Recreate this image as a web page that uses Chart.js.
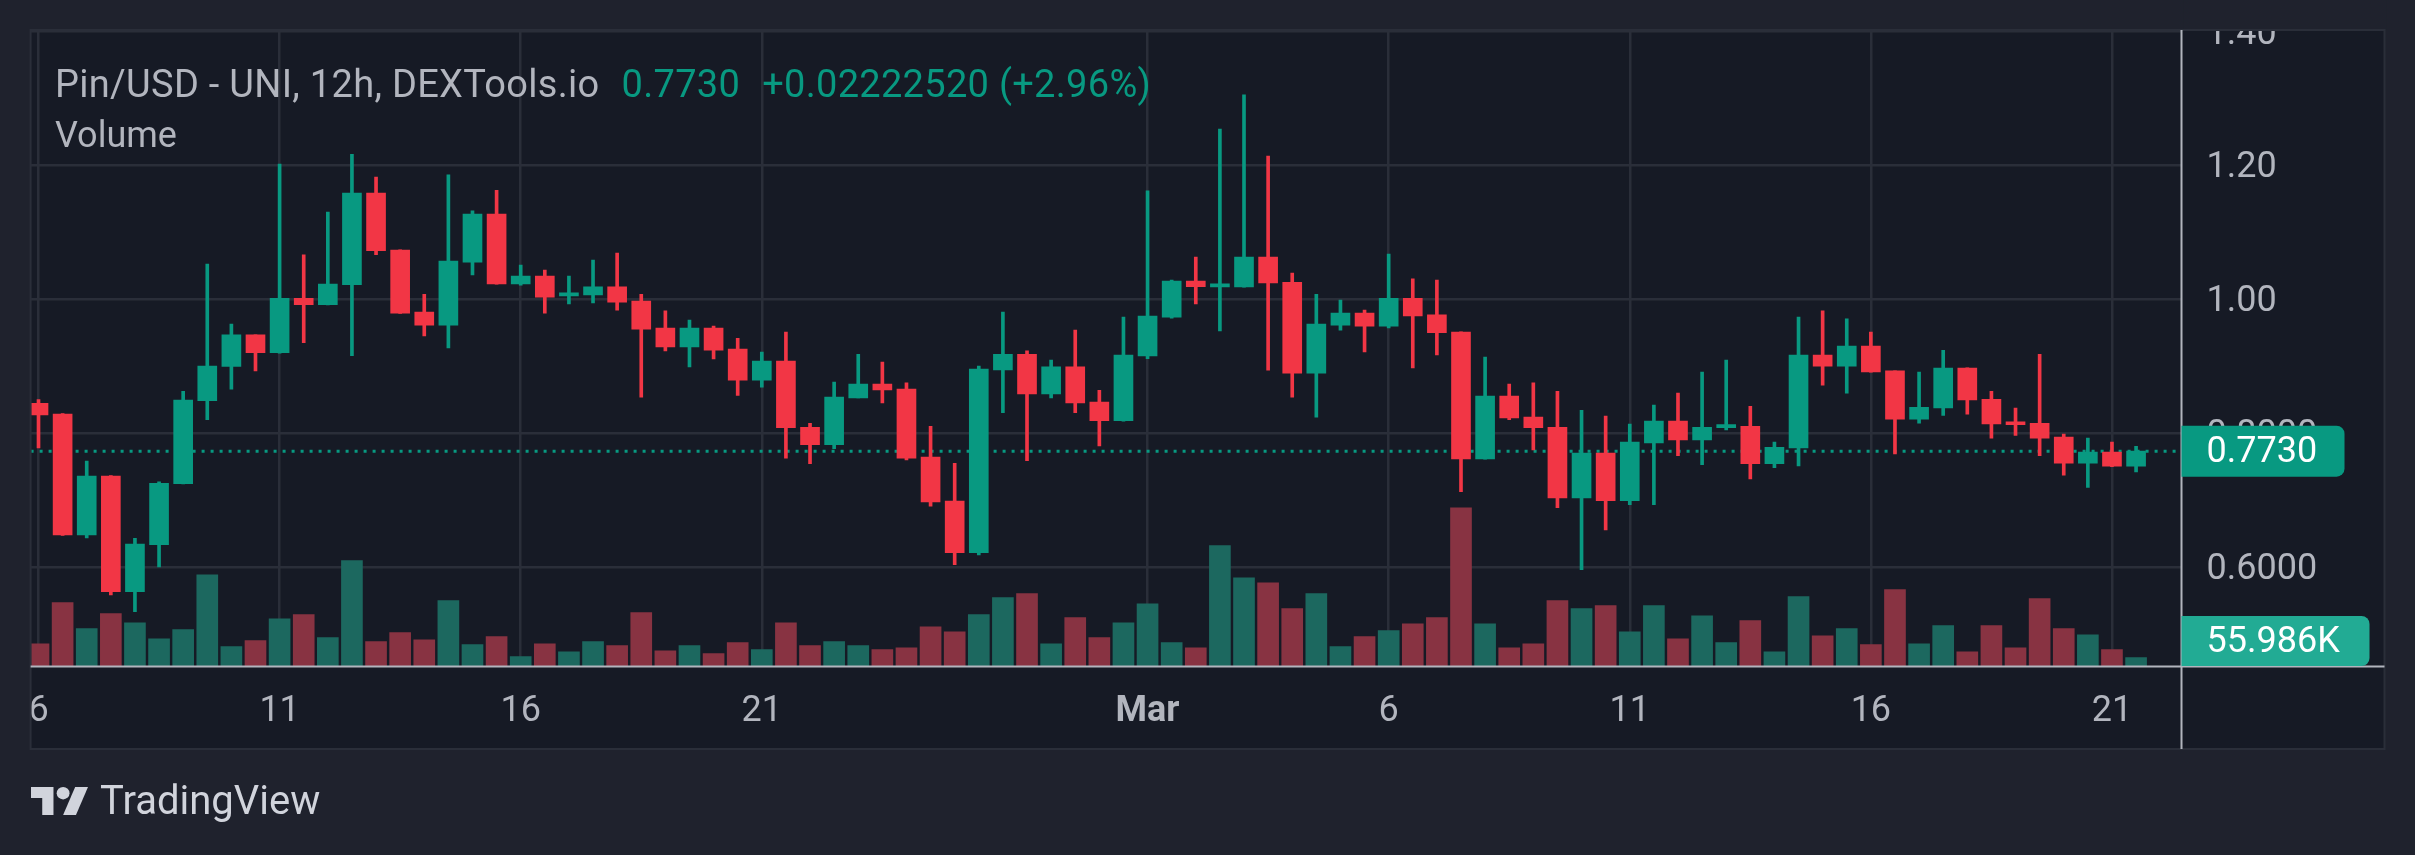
<!DOCTYPE html>
<html>
<head>
<meta charset="utf-8">
<style>
  body { margin: 0; background: #1f222d; overflow: hidden; }
  #wrap { position: relative; width: 2415px; height: 855px; }
  #myChart { position: absolute; left: 0; top: 0; display: block; }
  .txt { position: absolute; font-family: Roboto, sans-serif; white-space: nowrap; }
  #legend { left: 55px; top: 65px; font-size: 38px; line-height: 38px; letter-spacing: 0.3px; color: #b2b5be; }
  #legend .g { color: #089981; margin-left: 22px; }
  #volLabel { left: 55px; top: 117px; font-size: 36px; line-height: 36px; color: #b2b5be; }
  #brand { left: 100px; top: 781px; font-size: 40px; line-height: 40px; color: #d1d4dc; }
  #logo { position: absolute; left: 31px; top: 787px; }
</style>
</head>
<body>
<div id="wrap">
  <canvas id="myChart" width="2415" height="855"></canvas>
  <div id="legend" class="txt">Pin/USD - UNI, 12h, DEXTools.io<span class="g">0.7730</span><span class="g">+0.02222520 (+2.96%)</span></div>
  <div id="volLabel" class="txt">Volume</div>
  <svg id="logo" width="57" height="28" viewBox="0 4 35.5 18" preserveAspectRatio="none">
    <path d="M14 22H7V11H0V4h14v18z" fill="#d1d4dc"/>
    <circle cx="20" cy="8" r="4" fill="#d1d4dc"/>
    <path d="M28 22h-8l7.5-18h8L28 22z" fill="#d1d4dc"/>
  </svg>
  <div id="brand" class="txt">TradingView</div>
</div>

<script src="https://cdn.jsdelivr.net/npm/chart.js"></script>
<script>
    // 12h candles, Feb 6 00:00 .. Mar 21 12:00 (index = candle number)
    const opens = [0.8446, 0.8283, 0.6478, 0.7359, 0.5630, 0.6332, 0.7245, 0.8484, 0.8995, 0.9467,
        0.9201, 1.0016, 0.9918, 1.0217, 1.1587, 1.0734, 0.9810, 0.9614, 1.0554, 1.1272,
        1.0228, 1.0348, 1.0050, 1.0065, 1.0185, 0.9973, 0.9571, 0.9288, 0.9571, 0.9255,
        0.8793, 0.9076, 0.8087, 0.7826, 0.8527, 0.8734, 0.8658, 0.7641, 0.6984, 0.6212,
        0.8946, 0.9179, 0.8587, 0.8989, 0.8462, 0.8185, 0.9152, 0.9734, 1.0272, 1.0185,
        1.0185, 1.0630, 1.0255, 0.8897, 0.9614, 0.9793, 0.9598, 1.0016, 0.9766, 0.9511,
        0.7614, 0.8554, 0.8239, 0.8087, 0.7033, 0.7701, 0.6989, 0.7853, 0.8179, 0.7897,
        0.8082, 0.8103, 0.7543, 0.7777, 0.9168, 0.9000, 0.9299, 0.8929, 0.8207, 0.8375,
        0.8973, 0.8505, 0.8163, 0.8147, 0.7940, 0.7549, 0.7717, 0.7505];
    const highs = [0.8500, 0.8290, 0.7582, 0.7365, 0.6429, 0.7272, 0.8625, 1.0527, 0.9630, 0.9470,
        1.2022, 1.0663, 1.1304, 1.2168, 1.1826, 1.0740, 1.0076, 1.1859, 1.1321, 1.1630,
        1.0511, 1.0435, 1.0348, 1.0587, 1.0690, 1.0076, 0.9826, 0.9690, 0.9598, 0.9418,
        0.9212, 0.9511, 0.8147, 0.8761, 0.9179, 0.9060, 0.8750, 0.8103, 0.7549, 0.9000,
        0.9810, 0.9228, 0.9092, 0.9538, 0.8641, 0.9734, 1.1620, 1.0288, 1.0630, 1.2543,
        1.3055, 1.2141, 1.0391, 1.0076, 0.9989, 0.9837, 1.0674, 1.0304, 1.0288, 0.9515,
        0.9136, 0.8734, 0.8750, 0.8625, 0.8342, 0.8255, 0.8136, 0.8418, 0.8598, 0.8913,
        0.9092, 0.8402, 0.7864, 0.9734, 0.9826, 0.9707, 0.9511, 0.8930, 0.8913, 0.9239,
        0.8975, 0.8625, 0.8375, 0.9179, 0.7984, 0.7924, 0.7864, 0.7804];
    const lows = [0.7777, 0.6470, 0.6435, 0.5582, 0.5332, 0.6000, 0.7240, 0.8201, 0.8658, 0.8929,
        0.9195, 0.9353, 0.9915, 0.9158, 1.0668, 0.9790, 0.9451, 0.9272, 1.0364, 1.0225,
        1.0212, 0.9793, 0.9929, 0.9946, 0.9837, 0.8538, 0.9228, 0.8989, 0.9109, 0.8565,
        0.8685, 0.7625, 0.7543, 0.7766, 0.8525, 0.8451, 0.7598, 0.6908, 0.6033, 0.6179,
        0.8304, 0.7587, 0.8527, 0.8304, 0.7810, 0.8180, 0.9114, 0.9717, 0.9929, 0.9527,
        1.0180, 0.8940, 0.8538, 0.8239, 0.9538, 0.9212, 0.9571, 0.8973, 0.9168, 0.7125,
        0.7610, 0.8201, 0.7750, 0.6886, 0.5957, 0.6554, 0.6929, 0.6929, 0.7663, 0.7527,
        0.8049, 0.7315, 0.7484, 0.7511, 0.8717, 0.8598, 0.8910, 0.7690, 0.8147, 0.8266,
        0.8283, 0.7924, 0.7967, 0.7663, 0.7370, 0.7190, 0.7500, 0.7418];
    const closes = [0.8272, 0.6478, 0.7359, 0.5630, 0.6342, 0.7250, 0.8495, 0.9000, 0.9467, 0.9201,
        1.0016, 0.9918, 1.0228, 1.1587, 1.0728, 0.9793, 0.9614, 1.0571, 1.1272, 1.0228,
        1.0348, 1.0033, 1.0090, 1.0185, 0.9957, 0.9554, 0.9288, 0.9571, 0.9239, 0.8793,
        0.9076, 0.8082, 0.7826, 0.8538, 0.8734, 0.8647, 0.7625, 0.6973, 0.6212, 0.8957,
        0.9179, 0.8587, 0.8989, 0.8451, 0.8185, 0.9168, 0.9750, 1.0272, 1.0190, 1.0195,
        1.0630, 1.0245, 0.8897, 0.9630, 0.9793, 0.9598, 1.0016, 0.9750, 0.9500, 0.7614,
        0.8554, 0.8228, 0.8082, 0.7033, 0.7701, 0.6989, 0.7864, 0.8179, 0.7897, 0.8087,
        0.8120, 0.7543, 0.7788, 0.9168, 0.9000, 0.9299, 0.8913, 0.8207, 0.8386, 0.8973,
        0.8495, 0.8136, 0.8125, 0.7924, 0.7549, 0.7717, 0.7505, 0.7730];
    // volume in thousands
    const volumes = [148, 423, 250, 350, 289, 182, 243, 610, 129, 170,
        316, 343, 190, 705, 163, 224, 175, 437, 143, 197,
        63, 148, 95, 163, 136, 357, 102, 136, 83, 156,
        109, 289, 136, 163, 136, 109, 122, 262, 228, 343,
        457, 484, 148, 323, 190, 289, 416, 156, 122, 804,
        590, 556, 384, 484, 129, 197, 236, 282, 323, 1057,
        282, 122, 148, 437, 384, 403, 228, 403, 182, 335,
        156, 304, 95, 464, 202, 250, 143, 510, 148, 270,
        95, 270, 122, 450, 250, 209, 109, 55.986];

    const dayTickPos = [0, 10, 20, 30, 46, 56, 66, 76, 86];
    const dayTickLabels = ['6', '11', '16', '21', 'Mar', '6', '11', '16', '21'];
    const priceTicks = [0.6, 0.8, 1.0, 1.2, 1.4];
    const priceTickLabels = ['0.6000', '0.8000', '1.00', '1.20', '1.40'];

    const UP = '#089981', DOWN = '#f23645';
    const VOL_UP = '#1c685f', VOL_DOWN = '#883342';
    const OUTER = '#1f222d', PANEL = '#161a25', GRID = '#2a2e39', AXIS = '#b2b5be';
    const FONT = 'Roboto, sans-serif';

    const idx = closes.map((c, i) => i);
    const isUp = idx.map(i => closes[i] >= opens[i]);

    const panel = { left: 30.6, top: 30, right: 2384.5, bottom: 749 };

    const chrome = {
        id: 'chrome',
        beforeDraw(chart) {
            const c = chart.ctx;
            c.save();
            c.fillStyle = OUTER;
            c.fillRect(0, 0, chart.width, chart.height);
            c.fillStyle = PANEL;
            c.fillRect(panel.left, panel.top, panel.right - panel.left, panel.bottom - panel.top);
            c.restore();
        },
        beforeDatasetsDraw(chart) {
            const c = chart.ctx, a = chart.chartArea;
            const y = chart.scales.y.getPixelForValue(closes[closes.length - 1]);
            c.save();
            c.strokeStyle = UP;
            c.lineWidth = 3;
            c.setLineDash([3, 6]);
            c.beginPath();
            c.moveTo(a.left, y);
            c.lineTo(a.right, y);
            c.stroke();
            c.restore();
        },
        afterDraw(chart) {
            const c = chart.ctx, a = chart.chartArea;
            c.save();
            // clip the top price label at the pane edge
            c.fillStyle = OUTER;
            c.fillRect(a.right + 2, 0, panel.right - a.right, panel.top);
            c.strokeStyle = GRID;
            c.lineWidth = 2;
            c.strokeRect(panel.left, panel.top, panel.right - panel.left, panel.bottom - panel.top);
            // axis lines
            c.strokeStyle = AXIS;
            c.lineWidth = 2;
            c.beginPath();
            c.moveTo(a.right, panel.top);
            c.lineTo(a.right, panel.bottom);
            c.moveTo(panel.left, a.bottom + 0.5);
            c.lineTo(panel.right, a.bottom + 0.5);
            c.stroke();

            // last value badges
            const last = closes.length - 1;
            const py = chart.scales.y.getPixelForValue(closes[last]);
            drawBadge(c, a.right, py, closes[last].toFixed(4), UP, 163, 51, a);
            const vy = chart.scales.vol.getPixelForValue(volumes[last]);
            drawBadge(c, a.right, vy, volumes[last].toFixed(3) + 'K', '#22ab94', 188, 50, a);
            c.restore();
        }
    };

    function drawBadge(c, x0, y, text, color, w, h, area) {
        if (y + h / 2 > area.bottom) y = area.bottom - h / 2;
        c.fillStyle = color;
        c.beginPath();
        c.roundRect(x0, y - h / 2, w, h, [0, 8, 8, 0]);
        c.fill();
        c.font = '36px ' + FONT;
        c.fillStyle = '#ffffff';
        c.textBaseline = 'middle';
        c.textAlign = 'left';
        c.fillText(text, x0 + 25, y + 2);
    }

    // keep label padding from moving the plot area
    function noPad(s) {
        s.paddingTop = 0;
        s.paddingBottom = 0;
        s.paddingLeft = 0;
        s.paddingRight = 0;
    }

    const ctx = document.getElementById('myChart').getContext('2d');
    const myChart = new Chart(ctx, {
        type: 'bar',
        data: {
            datasets: [{
                label: 'Body',
                data: idx.map(i => ({ x: i, y: [opens[i], closes[i]] })),
                backgroundColor: isUp.map(u => u ? UP : DOWN),
                barThickness: 19,
                minBarLength: 3,
                grouped: false,
                order: 1
            }, {
                label: 'Wick',
                data: idx.map(i => ({ x: i, y: [lows[i], highs[i]] })),
                backgroundColor: isUp.map(u => u ? UP : DOWN),
                barThickness: 3,
                grouped: false,
                order: 2
            }, {
                label: 'Volume',
                data: idx.map(i => ({ x: i, y: volumes[i] })),
                backgroundColor: isUp.map(u => u ? VOL_UP : VOL_DOWN),
                barThickness: 21,
                grouped: false,
                yAxisID: 'vol',
                order: 3
            }]
        },
        options: {
            responsive: false,
            animation: false,
            devicePixelRatio: 1,
            layout: { padding: { left: 30.6, right: 30.5, top: 30, bottom: 106 } },
            plugins: { legend: { display: false }, tooltip: { enabled: false } },
            scales: {
                x: {
                    type: 'linear',
                    offset: false,
                    min: -0.328,
                    max: 88.884,
                    afterBuildTicks: s => { s.ticks = dayTickPos.map(v => ({ value: v })); },
                    afterFit: s => { s.height = 83; noPad(s); },
                    grid: { color: GRID, lineWidth: 2.5, drawTicks: false, offset: false },
                    border: { display: false },
                    ticks: {
                        autoSkip: false,
                        maxRotation: 0,
                        padding: 24,
                        color: AXIS,
                        font: c => ({ family: FONT, size: 36, weight: (c.tick && c.tick.label === 'Mar') ? 'bold' : 'normal' }),
                        callback: v => dayTickLabels[dayTickPos.indexOf(v)]
                    }
                },
                y: {
                    type: 'linear',
                    position: 'right',
                    min: 0.4519,
                    max: 1.4025,
                    afterBuildTicks: s => { s.ticks = priceTicks.map(v => ({ value: v })); },
                    afterFit: s => { s.width = 203; noPad(s); },
                    grid: { color: GRID, lineWidth: 2.5, drawTicks: false },
                    border: { display: false },
                    ticks: {
                        padding: 25,
                        labelOffset: 3,
                        color: AXIS,
                        font: { family: FONT, size: 36 },
                        callback: v => priceTickLabels[priceTicks.indexOf(v)]
                    }
                },
                vol: {
                    type: 'linear',
                    position: 'right',
                    display: false,
                    min: 0,
                    max: 4250
                }
            }
        },
        plugins: [chrome]
    });
</script>
</body>
</html>
